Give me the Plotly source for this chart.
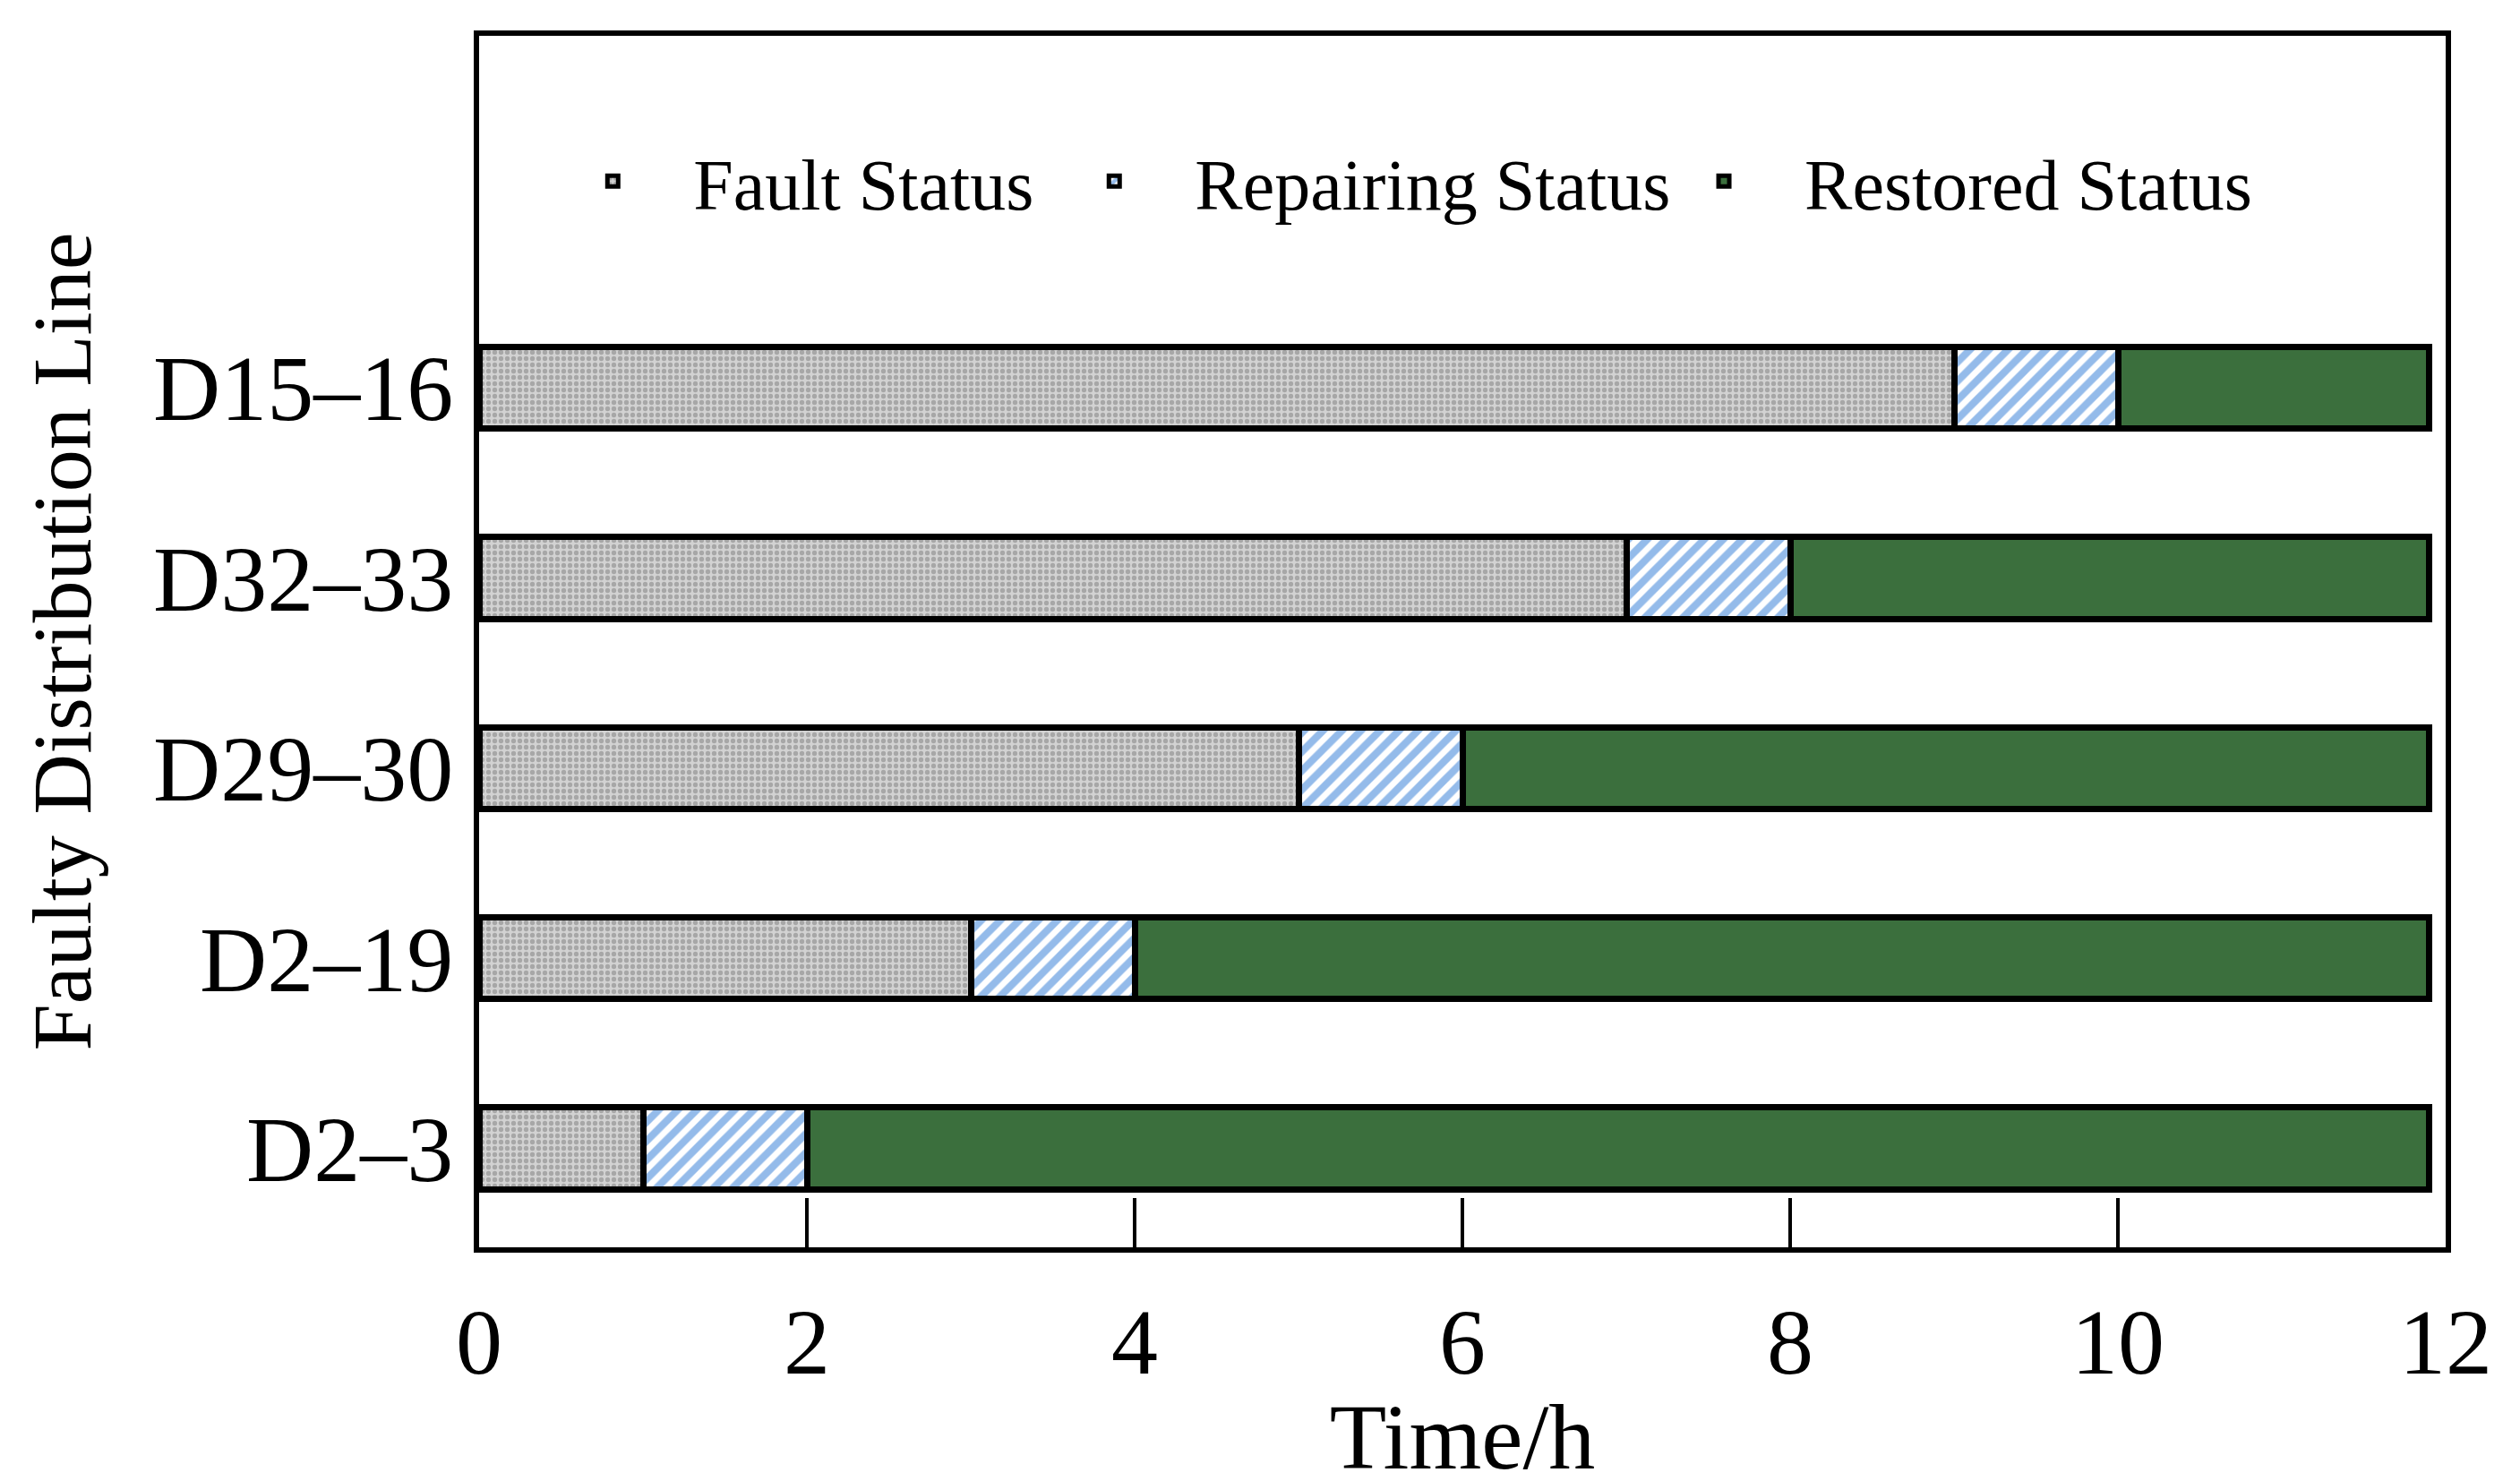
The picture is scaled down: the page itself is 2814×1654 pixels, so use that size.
import plotly.graph_objects as go

# faulty lines, bottom to top
lines = ["D2–3", "D2–19", "D29–30", "D32–33", "D15–16"]
fault_hours = [1, 3, 5, 7, 9]
repair_hours = [1, 1, 1, 1, 1]
restored_hours = [9.9, 7.9, 5.9, 3.9, 1.9]

x_ticks = [0, 2, 4, 6, 8, 10, 12]

FONT = "Liberation Serif"
edge = dict(color="black", width=7)

fig = go.Figure()
fig.add_trace(go.Bar(
    y=lines, x=fault_hours, orientation="h", name="Fault Status", legend="legend",
    marker=dict(color="#c4c4c4", line=edge,
                pattern=dict(shape=".", fgcolor="#7c7c7c", bgcolor="#d2d2d2",
                             size=7, solidity=0.45)),
))
fig.add_trace(go.Bar(
    y=lines, x=repair_hours, orientation="h", name="Repairing Status", legend="legend2",
    marker=dict(color="white", line=edge,
                pattern=dict(shape="/", fgcolor="#2a78d6", bgcolor="white",
                             size=15, solidity=0.55)),
))
fig.add_trace(go.Bar(
    y=lines, x=restored_hours, orientation="h", name="Restored Status", legend="legend3",
    marker=dict(color="#3b6f3d", line=edge),
))

def leg(xpos):
    return dict(orientation="h", x=xpos, y=0.88, xanchor="left", yanchor="middle",
                font=dict(size=80, family=FONT), bgcolor="rgba(0,0,0,0)",
                itemwidth=170)

fig.update_layout(
    width=2814, height=1654,
    barmode="stack", bargap=0.57, showlegend=True,
    plot_bgcolor="white", paper_bgcolor="white",
    margin=dict(l=527, r=91, t=32, b=269),
    font=dict(family=FONT, color="black"),
    legend=leg(0.027), legend2=leg(0.282), legend3=leg(0.592),
)
fig.update_xaxes(
    range=[0, 12], tickvals=x_ticks, ticks="inside", ticklen=55, tickwidth=4,
    tickcolor="black", showline=True, linecolor="black", linewidth=6, mirror=True,
    showgrid=False, zeroline=False, tickfont=dict(size=104, family=FONT),
    ticklabelstandoff=10, automargin=False,
    title=dict(text="Time/h", font=dict(size=104, family=FONT), standoff=4),
)
fig.update_yaxes(
    type="category", categoryorder="array", categoryarray=lines,
    range=[-0.52, 5.85], ticks="", showline=True, linecolor="black", linewidth=6,
    mirror=True, showgrid=False, zeroline=False,
    tickfont=dict(size=104, family=FONT), ticklabelstandoff=2,
    title=dict(text="Faulty Distribution Line", font=dict(size=94, family=FONT),
               standoff=40),
)

fig.write_html("out.html")
